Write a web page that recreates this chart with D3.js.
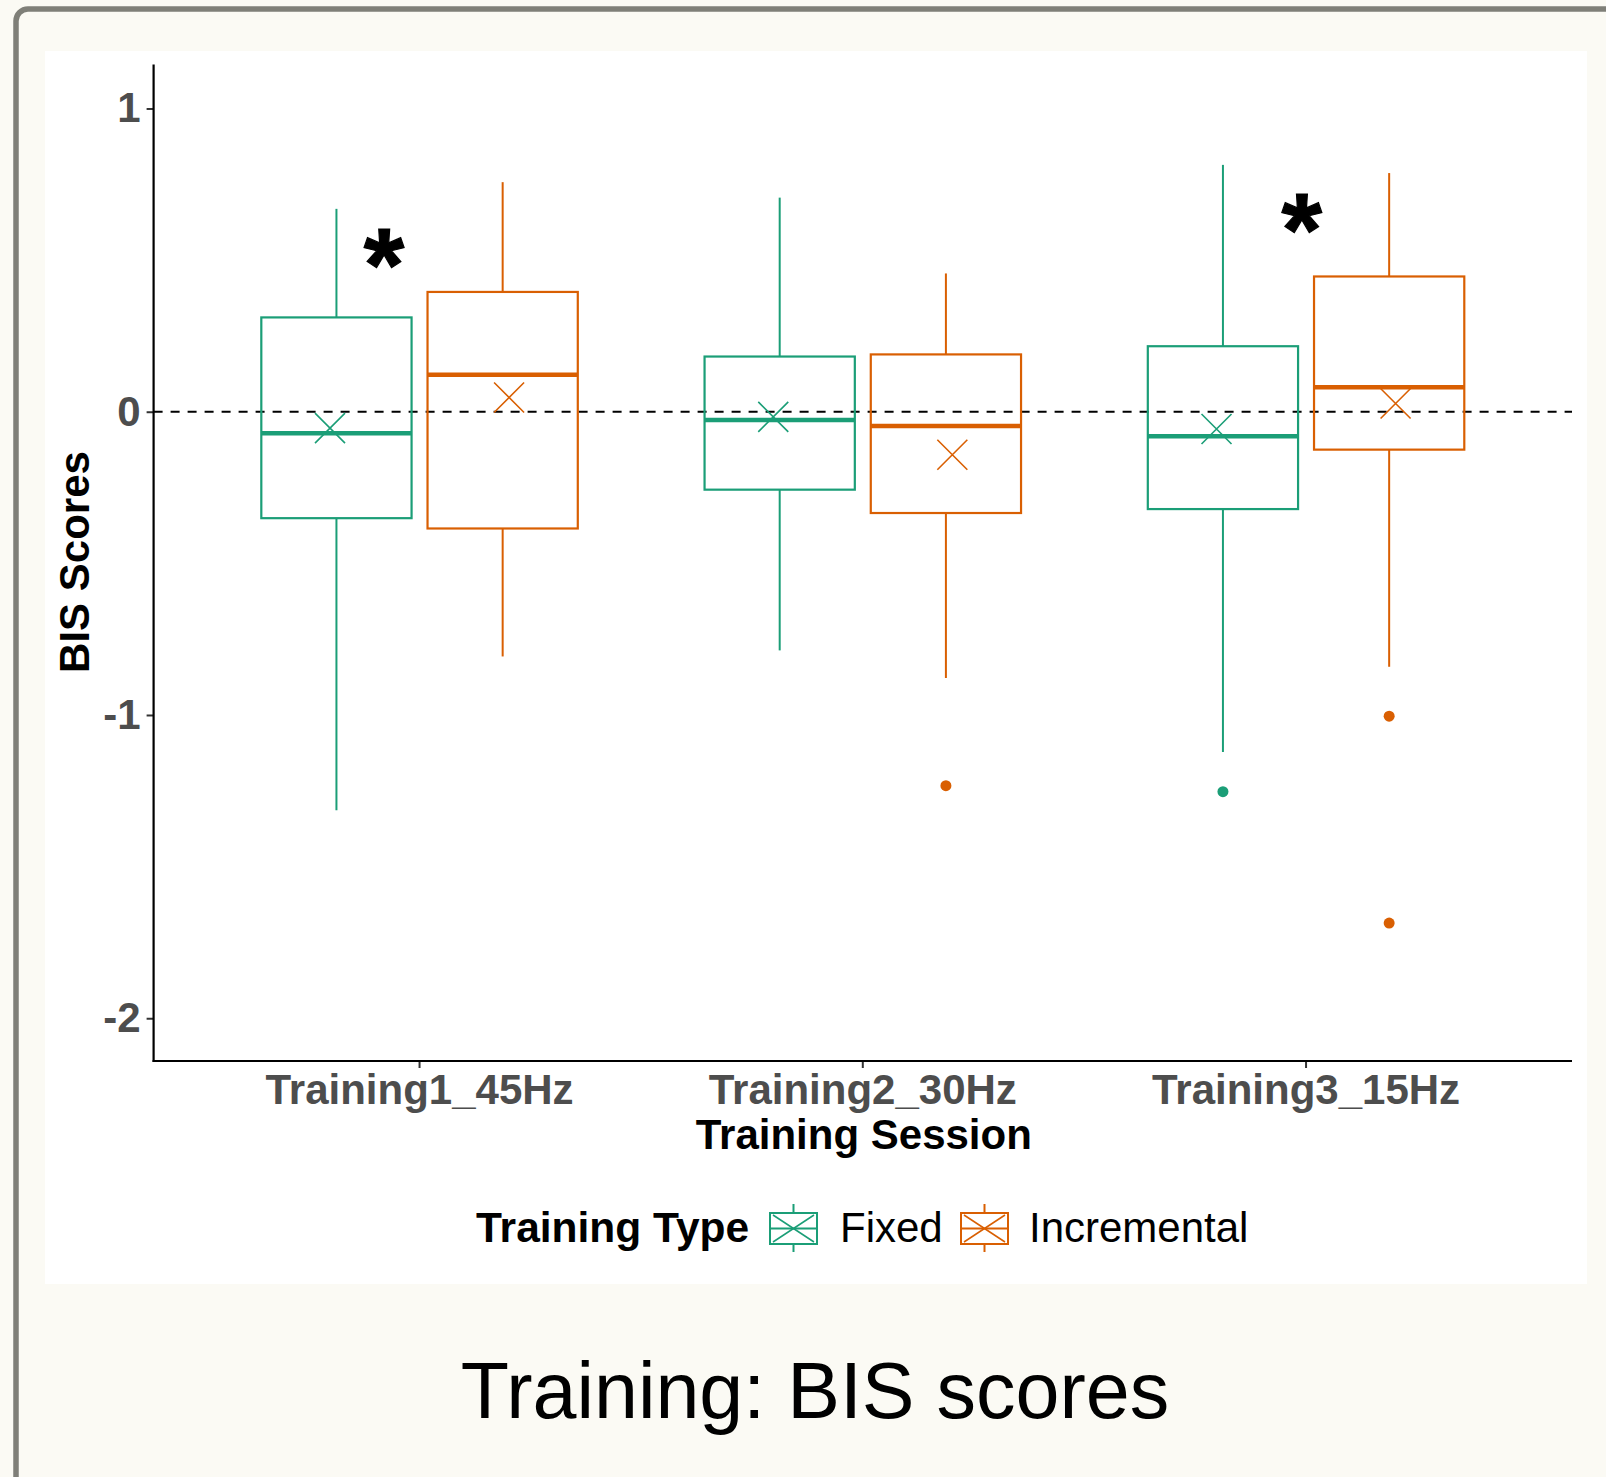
<!DOCTYPE html>
<html>
<head>
<meta charset="utf-8">
<script src="https://cdn.jsdelivr.net/npm/d3@7"></script>
<style>
  html, body { margin: 0; padding: 0; background: #fbfaf4; }
  svg { display: block; }
</style>
</head>
<body>
<svg id="chart" width="1606" height="1477"></svg>
<script>
// ---------------- DATA ----------------
const categories = ["Training1_45Hz", "Training2_30Hz", "Training3_15Hz"];
const trainingTypes = ["Fixed", "Incremental"];
const typeColors = ["#1b9e77", "#d95f02"];

// [lower whisker, Q1, median, Q3, upper whisker]
const fixedBoxes = [
  [-1.314, -0.351, -0.071, 0.311, 0.669],
  [-0.787, -0.257, -0.027, 0.182, 0.706],
  [-1.122, -0.321, -0.081, 0.216, 0.814]
];
const incrementalBoxes = [
  [-0.807, -0.385, 0.122, 0.395, 0.757],
  [-0.878, -0.334, -0.047, 0.189, 0.456],
  [-0.841, -0.125, 0.081, 0.446, 0.787]
];
const fixedMeans = [-0.054, -0.017, -0.057];
const incrementalMeans = [0.047, -0.142, 0.027];
const fixedOutliers = [[], [], [-1.253]];
const incrementalOutliers = [[], [-1.233], [-1.004, -1.686]];

const yTicks = [-2, -1, 0, 1];
const yDomain = [-2.141, 1.145];

// significance markers: category index, offset within band, y value
const sigCategory = [0, 2];
const sigOffset = [-0.08, -0.01];
const sigValue = [0.545, 0.662];

const xTitle = "Training Session";
const yTitle = "BIS Scores";
const legendTitle = "Training Type";
const caption = "Training: BIS scores";

// ---------------- LAYOUT ----------------
const FONT = "'Liberation Sans', Arial, Helvetica, sans-serif";
const svg = d3.select("#chart");

// page frame
svg.append("rect").attr("x", 0).attr("y", 0).attr("width", 1606).attr("height", 1477).attr("fill", "#fbfaf4");
svg.append("rect")
  .attr("x", 16).attr("y", 9).attr("width", 1640).attr("height", 1520)
  .attr("rx", 12).attr("ry", 12)
  .attr("fill", "#fbfaf4").attr("stroke", "#7f7f78").attr("stroke-width", 5.5);
// white plot panel
svg.append("rect").attr("x", 45).attr("y", 51).attr("width", 1542).attr("height", 1233).attr("fill", "#ffffff");

const plot = { left: 153.6, right: 1572, top: 64.5, bottom: 1061 };

const x = d3.scaleBand().domain(categories)
  .range([plot.left, plot.right]).paddingInner(0).paddingOuter(0.1);
const y = d3.scaleLinear().domain(yDomain).range([plot.bottom, plot.top]);
const step = x.step();
const boxW = 0.339 * step;
const dodge = 0.1875 * step;
const meanDodge = 0.202 * step;

// zero reference line
svg.append("line")
  .attr("x1", plot.left).attr("x2", plot.right)
  .attr("y1", y(0)).attr("y2", y(0))
  .attr("stroke", "#000").attr("stroke-width", 2)
  .attr("stroke-dasharray", "9,8");

const groups = [
  { boxes: fixedBoxes, means: fixedMeans, outliers: fixedOutliers, color: typeColors[0], side: -1 },
  { boxes: incrementalBoxes, means: incrementalMeans, outliers: incrementalOutliers, color: typeColors[1], side: 1 }
];

groups.forEach(g => {
  categories.forEach((cat, i) => {
    const b = g.boxes[i];
    const cx = x(cat) + step / 2 + g.side * dodge;
    const gg = svg.append("g");
    // whiskers
    gg.append("line").attr("x1", cx).attr("x2", cx).attr("y1", y(b[4])).attr("y2", y(b[3]))
      .attr("stroke", g.color).attr("stroke-width", 2);
    gg.append("line").attr("x1", cx).attr("x2", cx).attr("y1", y(b[1])).attr("y2", y(b[0]))
      .attr("stroke", g.color).attr("stroke-width", 2);
    // box
    gg.append("rect").attr("x", cx - boxW / 2).attr("y", y(b[3]))
      .attr("width", boxW).attr("height", y(b[1]) - y(b[3]))
      .attr("fill", "none").attr("stroke", g.color).attr("stroke-width", 2.2);
    // median
    gg.append("line").attr("x1", cx - boxW / 2).attr("x2", cx + boxW / 2)
      .attr("y1", y(b[2])).attr("y2", y(b[2]))
      .attr("stroke", g.color).attr("stroke-width", 4.5);
    // outliers
    g.outliers[i].forEach(v => {
      gg.append("circle").attr("cx", cx).attr("cy", y(v)).attr("r", 5.5).attr("fill", g.color);
    });
    // mean marker (x)
    const mx = x(cat) + step / 2 + g.side * meanDodge;
    const my = y(g.means[i]);
    const s = 15;
    gg.append("path")
      .attr("d", `M${mx - s},${my - s}L${mx + s},${my + s}M${mx - s},${my + s}L${mx + s},${my - s}`)
      .attr("stroke", g.color).attr("stroke-width", 1.6).attr("fill", "none");
  });
});

// significance asterisks
sigCategory.forEach((ci, k) => {
  const cx = x(categories[ci]) + step / 2 + sigOffset[k] * step;
  const cy = y(sigValue[k]);
  svg.append("text")
    .attr("x", cx).attr("y", cy + 55)
    .attr("text-anchor", "middle")
    .attr("font-family", FONT).attr("font-weight", "bold").attr("font-size", 104)
    .attr("stroke", "#000").attr("stroke-width", 1.2)
    .attr("fill", "#000").text("*");
});

// axes
const yAxis = svg.append("g").attr("transform", `translate(${plot.left},0)`)
  .call(d3.axisLeft(y).tickValues(yTicks).tickSize(7).tickPadding(6).tickFormat(d3.format("d")));
const xAxis = svg.append("g").attr("transform", `translate(0,${plot.bottom})`)
  .call(d3.axisBottom(x).tickSize(7).tickPadding(6));

[yAxis, xAxis].forEach(a => {
  a.select(".domain").remove();
  a.selectAll(".tick line").attr("stroke", "#333").attr("stroke-width", 2);
  a.selectAll(".tick text").attr("font-family", FONT).attr("font-weight", "bold")
    .attr("font-size", 42).attr("fill", "#4d4d4d");
});
yAxis.selectAll(".tick text").text(d => d < 0 ? "-" + Math.abs(d) : d);

// axis lines
svg.append("line").attr("x1", plot.left).attr("x2", plot.left).attr("y1", plot.top).attr("y2", plot.bottom + 1)
  .attr("stroke", "#000").attr("stroke-width", 2.2);
svg.append("line").attr("x1", plot.left - 1).attr("x2", plot.right).attr("y1", plot.bottom).attr("y2", plot.bottom)
  .attr("stroke", "#000").attr("stroke-width", 2.2);

// axis titles
svg.append("text").attr("x", (plot.left + plot.right) / 2 + 1).attr("y", 1149)
  .attr("text-anchor", "middle").attr("font-family", FONT).attr("font-weight", "bold")
  .attr("font-size", 42).attr("fill", "#000").text(xTitle);
svg.append("text").attr("transform", "translate(89,562) rotate(-90)")
  .attr("text-anchor", "middle").attr("font-family", FONT).attr("font-weight", "bold")
  .attr("font-size", 42).attr("fill", "#000").text(yTitle);

// legend
const legendBaseline = 1242;
svg.append("text").attr("x", 476).attr("y", legendBaseline)
  .attr("font-family", FONT).attr("font-weight", "bold").attr("font-size", 42.5)
  .attr("fill", "#000").text(legendTitle);
const keyX = [770, 961];
const labelX = [840, 1029];
trainingTypes.forEach((t, i) => {
  const c = typeColors[i];
  const kx = keyX[i], kw = 47, ky = 1213, kh = 31;
  const cxk = kx + kw / 2;
  const k = svg.append("g");
  k.append("line").attr("x1", cxk).attr("x2", cxk).attr("y1", 1204).attr("y2", ky).attr("stroke", c).attr("stroke-width", 2);
  k.append("line").attr("x1", cxk).attr("x2", cxk).attr("y1", ky + kh).attr("y2", 1252).attr("stroke", c).attr("stroke-width", 2);
  k.append("rect").attr("x", kx).attr("y", ky).attr("width", kw).attr("height", kh)
    .attr("fill", "none").attr("stroke", c).attr("stroke-width", 2);
  k.append("line").attr("x1", kx).attr("x2", kx + kw).attr("y1", ky + kh / 2).attr("y2", ky + kh / 2)
    .attr("stroke", c).attr("stroke-width", 2);
  k.append("path")
    .attr("d", `M${kx + 3},${ky + 2}L${kx + kw - 3},${ky + kh - 2}M${kx + 3},${ky + kh - 2}L${kx + kw - 3},${ky + 2}`)
    .attr("stroke", c).attr("stroke-width", 1.5).attr("fill", "none");
  svg.append("text").attr("x", labelX[i]).attr("y", legendBaseline)
    .attr("font-family", FONT).attr("font-size", 42).attr("fill", "#000").text(t);
});

// caption
svg.append("text").attr("x", 815).attr("y", 1418).attr("text-anchor", "middle")
  .attr("font-family", FONT).attr("font-size", 79).attr("fill", "#000").text(caption);
</script>
</body>
</html>
